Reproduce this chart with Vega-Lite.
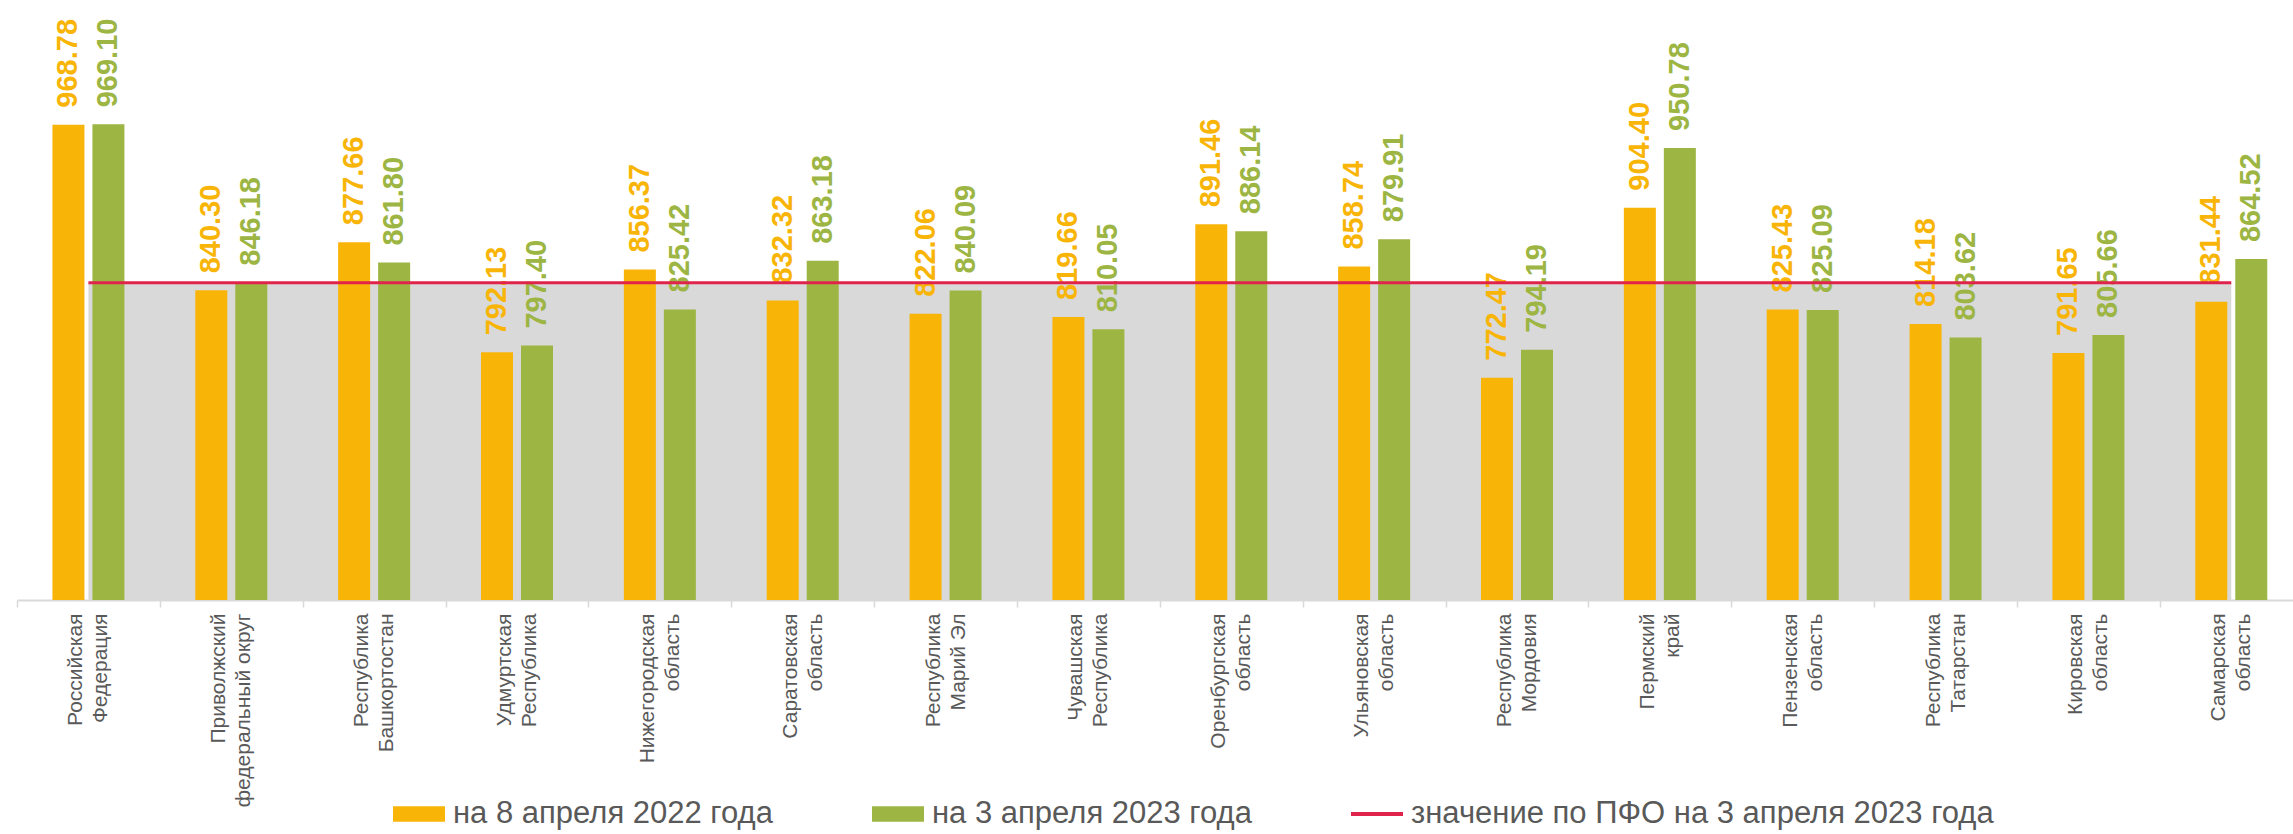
{
  "$schema": "https://vega.github.io/schema/vega-lite/v6.json",
  "width": 2276,
  "height": 580,
  "autosize": {"type": "none"},
  "padding": {"left": 17, "top": 20, "right": 0, "bottom": 234},
  "config": {"font": "Liberation Sans", "view": {"stroke": null}},
  "datasets": {
    "bars": [
      {"region": "Российская Федерация", "series": "на 8 апреля 2022 года", "value": 968.78},
      {"region": "Российская Федерация", "series": "на 3 апреля 2023 года", "value": 969.10},
      {"region": "Приволжский федеральный округ", "series": "на 8 апреля 2022 года", "value": 840.30},
      {"region": "Приволжский федеральный округ", "series": "на 3 апреля 2023 года", "value": 846.18},
      {"region": "Республика Башкортостан", "series": "на 8 апреля 2022 года", "value": 877.66},
      {"region": "Республика Башкортостан", "series": "на 3 апреля 2023 года", "value": 861.80},
      {"region": "Удмуртская Республика", "series": "на 8 апреля 2022 года", "value": 792.13},
      {"region": "Удмуртская Республика", "series": "на 3 апреля 2023 года", "value": 797.40},
      {"region": "Нижегородская область", "series": "на 8 апреля 2022 года", "value": 856.37},
      {"region": "Нижегородская область", "series": "на 3 апреля 2023 года", "value": 825.42},
      {"region": "Саратовская область", "series": "на 8 апреля 2022 года", "value": 832.32},
      {"region": "Саратовская область", "series": "на 3 апреля 2023 года", "value": 863.18},
      {"region": "Республика Марий Эл", "series": "на 8 апреля 2022 года", "value": 822.06},
      {"region": "Республика Марий Эл", "series": "на 3 апреля 2023 года", "value": 840.09},
      {"region": "Чувашская Республика", "series": "на 8 апреля 2022 года", "value": 819.66},
      {"region": "Чувашская Республика", "series": "на 3 апреля 2023 года", "value": 810.05},
      {"region": "Оренбургская область", "series": "на 8 апреля 2022 года", "value": 891.46},
      {"region": "Оренбургская область", "series": "на 3 апреля 2023 года", "value": 886.14},
      {"region": "Ульяновская область", "series": "на 8 апреля 2022 года", "value": 858.74},
      {"region": "Ульяновская область", "series": "на 3 апреля 2023 года", "value": 879.91},
      {"region": "Республика Мордовия", "series": "на 8 апреля 2022 года", "value": 772.47},
      {"region": "Республика Мордовия", "series": "на 3 апреля 2023 года", "value": 794.19},
      {"region": "Пермский край", "series": "на 8 апреля 2022 года", "value": 904.40},
      {"region": "Пермский край", "series": "на 3 апреля 2023 года", "value": 950.78},
      {"region": "Пензенская область", "series": "на 8 апреля 2022 года", "value": 825.43},
      {"region": "Пензенская область", "series": "на 3 апреля 2023 года", "value": 825.09},
      {"region": "Республика Татарстан", "series": "на 8 апреля 2022 года", "value": 814.18},
      {"region": "Республика Татарстан", "series": "на 3 апреля 2023 года", "value": 803.62},
      {"region": "Кировская область", "series": "на 8 апреля 2022 года", "value": 791.65},
      {"region": "Кировская область", "series": "на 3 апреля 2023 года", "value": 805.66},
      {"region": "Самарская область", "series": "на 8 апреля 2022 года", "value": 831.44},
      {"region": "Самарская область", "series": "на 3 апреля 2023 года", "value": 864.52}
    ],
    "pfo": [
      {"region": "Российская Федерация", "value": 846.18},
      {"region": "Приволжский федеральный округ", "value": 846.18},
      {"region": "Республика Башкортостан", "value": 846.18},
      {"region": "Удмуртская Республика", "value": 846.18},
      {"region": "Нижегородская область", "value": 846.18},
      {"region": "Саратовская область", "value": 846.18},
      {"region": "Республика Марий Эл", "value": 846.18},
      {"region": "Чувашская Республика", "value": 846.18},
      {"region": "Оренбургская область", "value": 846.18},
      {"region": "Ульяновская область", "value": 846.18},
      {"region": "Республика Мордовия", "value": 846.18},
      {"region": "Пермский край", "value": 846.18},
      {"region": "Пензенская область", "value": 846.18},
      {"region": "Республика Татарстан", "value": 846.18},
      {"region": "Кировская область", "value": 846.18},
      {"region": "Самарская область", "value": 846.18}
    ]
  },
  "layer": [
    {
      "data": {"name": "pfo"},
      "mark": {"type": "area", "color": "#D9D9D9", "opacity": 1},
      "encoding": {
        "x": {
          "field": "region", "type": "nominal",
          "scale": {
            "domain": ["Российская Федерация", "Приволжский федеральный округ", "Республика Башкортостан", "Удмуртская Республика", "Нижегородская область", "Саратовская область", "Республика Марий Эл", "Чувашская Республика", "Оренбургская область", "Ульяновская область", "Республика Мордовия", "Пермский край", "Пензенская область", "Республика Татарстан", "Кировская область", "Самарская область"],
            "paddingInner": 0, "paddingOuter": 0, "range": [0, 2285.7]
          },
          "axis": {
            "title": null,
            "labelAngle": -90,
            "labelFontSize": 21,
            "labelColor": "#595959",
            "labelLineHeight": 25,
            "labelLimit": 400,
            "labelOffset": -12.5,
            "labelExpr": "[slice(datum.label, 0, indexof(datum.label, ' ')), slice(datum.label, indexof(datum.label, ' ') + 1)]",
            "labelPadding": 6,
            "tickSize": 7,
            "tickColor": "#D9D9D9",
            "tickWidth": 1.5,
            "domainColor": "#D9D9D9",
            "domainWidth": 2,
            "tickBand": "extent",
            "encode": {"ticks": {"update": {"opacity": {"signal": "indexof(domain('x'), datum.value) % 2 === 0 ? 1 : 0"}}}}
          }
        },
        "y": {"field": "value", "type": "quantitative", "scale": {"domain": [600, 1050], "zero": false, "nice": false}, "axis": null},
        "y2": {"datum": 600}
      }
    },
    {
      "data": {"name": "bars"},
      "mark": {"type": "bar"},
      "encoding": {
        "x": {"field": "region", "type": "nominal"},
        "xOffset": {"field": "series", "type": "nominal", "scale": {"domain": ["на 8 апреля 2022 года", "на 3 апреля 2023 года"], "paddingInner": 0.2, "paddingOuter": 0.886}},
        "y": {"field": "value", "type": "quantitative"},
        "y2": {"datum": 600},
        "color": {
          "field": "series", "type": "nominal",
          "scale": {"domain": ["на 8 апреля 2022 года", "на 3 апреля 2023 года", "значение по ПФО на 3 апреля 2023 года"], "range": ["#F8B508", "#9CB543", "#E0234B"]},
          "legend": {
            "title": null,
            "orient": "none",
            "legendX": 375,
            "legendY": 767,
            "direction": "horizontal",
            "padding": 0,
            "symbolSize": 2704,
            "labelFontSize": 31,
            "labelColor": "#595959",
            "labelLimit": 800,
            "labelOffset": 7,
            "columnPadding": 96,
            "encode": {
              "symbols": {
                "update": {
                  "shape": {"signal": "datum.value === 'значение по ПФО на 3 апреля 2023 года' ? 'M-1,-0.075L1,-0.075L1,0.075L-1,0.075Z' : 'M-1,-0.3L1,-0.3L1,0.3L-1,0.3Z'"},
                  "fill": {"scale": "color", "field": "value"},
                  "stroke": {"value": "transparent"},
                  "opacity": {"value": 1}
                }
              }
            }
          }
        }
      }
    },
    {
      "data": {"name": "bars"},
      "mark": {"type": "text", "angle": 270, "align": "left", "baseline": "middle", "dx": 17, "fontSize": 29, "fontWeight": "bold"},
      "encoding": {
        "x": {"field": "region", "type": "nominal"},
        "xOffset": {"field": "series", "type": "nominal"},
        "y": {"field": "value", "type": "quantitative"},
        "text": {"field": "value", "type": "quantitative", "format": ".2f"},
        "color": {"field": "series", "type": "nominal"}
      }
    },
    {
      "data": {"name": "pfo"},
      "mark": {"type": "line", "color": "#E0234B", "strokeWidth": 3},
      "encoding": {
        "x": {"field": "region", "type": "nominal"},
        "y": {"field": "value", "type": "quantitative"}
      }
    }
  ]
}
